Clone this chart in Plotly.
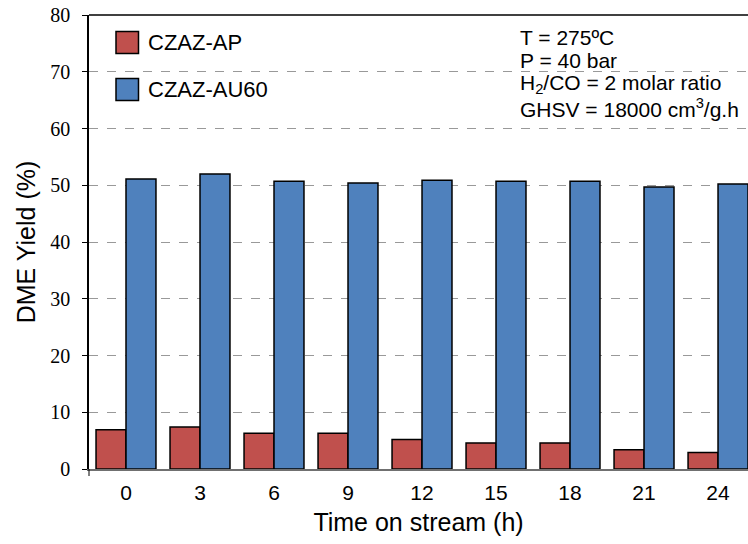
import plotly.graph_objects as go

time_labels = ["0", "3", "6", "9", "12", "15", "18", "21", "24"]
czaz_ap = [6.9, 7.4, 6.3, 6.3, 5.2, 4.6, 4.6, 3.4, 2.9]
czaz_au60 = [51.1, 52.0, 50.7, 50.4, 50.9, 50.7, 50.7, 49.7, 50.2]
series_names = ["CZAZ-AP", "CZAZ-AU60"]
series_colors = ["#C0504D", "#4F81BD"]
conditions = ["T = 275ºC", "P = 40 bar", "H<sub>2</sub>/CO = 2 molar ratio",
              "GHSV = 18000 cm<sup>3</sup>/g.h"]

W, H = 748, 544
PLOT_L, PLOT_T, PLOT_B, PLOT_R = 89, 15, 469, 748   # page coords of plot area
plot_h = PLOT_B - PLOT_T
plot_w = PLOT_R - PLOT_L

def py(ypix):
    return (PLOT_B - ypix) / plot_h

def px(xpix):
    return (xpix - PLOT_L) / plot_w

SANS = "Liberation Sans, Arial"
SERIF = "Liberation Serif, Times New Roman"

fig = go.Figure()
for name, vals, col in zip(series_names, [czaz_ap, czaz_au60], series_colors):
    fig.add_trace(go.Bar(x=time_labels, y=vals, name=name, marker_color=col,
                         marker_line_color="black", marker_line_width=1.5,
                         showlegend=False))

shapes = []
annotations = []
shapes.append(dict(type="rect", xref="paper", yref="paper", layer="between",
                   x0=px(97), x1=px(281), y0=py(114), y1=py(19),
                   fillcolor="white", line_width=0))
shapes.append(dict(type="rect", xref="paper", yref="paper", layer="between",
                   x0=px(516), x1=1.0, y0=py(120), y1=py(19),
                   fillcolor="white", line_width=0))
shapes.append(dict(type="line", xref="paper", yref="paper", x0=0, x1=1, y0=1, y1=1,
                   line=dict(color="black", width=1.5)))
shapes.append(dict(type="line", xref="paper", yref="paper", x0=0, x1=0, y0=0, y1=py(476),
                   line=dict(color="black", width=1)))
for i, (name, col) in enumerate(zip(series_names, series_colors)):
    yc = 42.5 + i * 47
    shapes.append(dict(type="rect", xref="paper", yref="paper",
                       x0=px(116), x1=px(138.5), y0=py(yc + 11), y1=py(yc - 11),
                       fillcolor=col, line=dict(color="black", width=1.5)))
    annotations.append(dict(xref="paper", yref="paper", x=px(146), y=py(yc),
                            text=name, showarrow=False, xanchor="left", yanchor="middle",
                            font=dict(family=SANS, size=22, color="black")))
for i, line in enumerate(conditions):
    yc = 37 + i * 23.7
    annotations.append(dict(xref="paper", yref="paper", x=px(518), y=py(yc),
                            text=line, showarrow=False, xanchor="left", yanchor="middle",
                            font=dict(family=SANS, size=21, color="black")))

fig.update_layout(
    width=W, height=H,
    margin=dict(l=PLOT_L, r=W - PLOT_R, t=PLOT_T, b=H - PLOT_B, pad=0),
    paper_bgcolor="white", plot_bgcolor="white",
    barmode="group", bargap=0.19, bargroupgap=0,
    shapes=shapes, annotations=annotations,
    font=dict(family=SANS, color="black"),
)
fig.update_xaxes(
    type="category", range=[-0.5, 8.405], automargin=False,
    showline=True, linecolor="#707070", linewidth=1.5,
    ticks="", showgrid=False,
    tickfont=dict(family=SANS, size=21, color="black"),
    ticklabelstandoff=4,
    title=dict(text="Time on stream (h)", standoff=11,
               font=dict(family=SANS, size=25, color="black")),
)
fig.update_yaxes(
    range=[0, 80], dtick=10, tick0=0, automargin=False,
    showline=True, linecolor="black", linewidth=1.5,
    ticks="outside", ticklen=5, tickcolor="black", tickwidth=1,
    showgrid=True, gridcolor="#999999", griddash="dash", gridwidth=1,
    zeroline=False,
    tickfont=dict(family=SERIF, size=20, color="black"),
    ticklabelstandoff=8, ticklabeloverflow="allow",
    title=dict(text="DME Yield (%)", standoff=8,
               font=dict(family=SANS, size=25, color="black")),
)

fig.write_html("out.html", config={"displayModeBar": False},
               post_script="document.body.style.margin='0';")
